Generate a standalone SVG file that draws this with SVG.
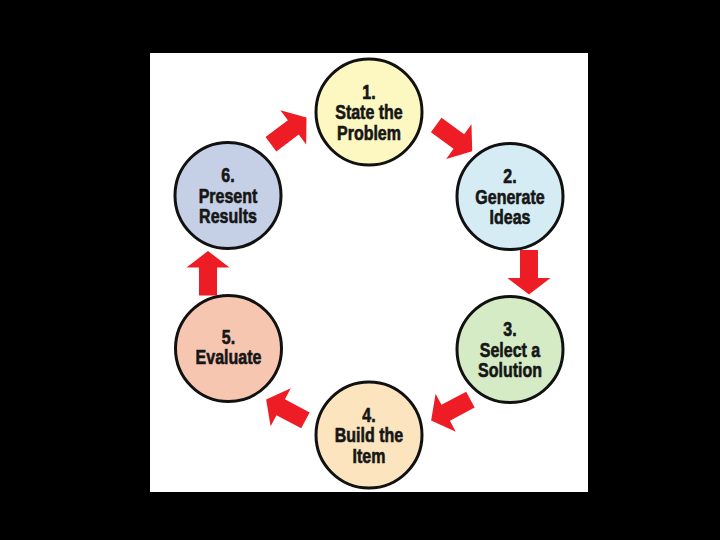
<svg xmlns="http://www.w3.org/2000/svg" width="720" height="540" viewBox="0 0 720 540">
<defs>
<style>
.node circle{stroke:#111;stroke-width:3}
.node text{font-family:"Liberation Sans",Arial,sans-serif;font-weight:bold;font-size:19.5px;fill:#161616;stroke:#161616;stroke-width:0.6;text-anchor:middle}
.arrow{fill:#ee1c24}
</style>
<path id="arr" d="M-22,-9 L6,-9 L6,-21.5 L22.5,0 L6,21.5 L6,9 L-22,9 Z"/>
</defs>
<rect x="0" y="0" width="720" height="540" fill="#000"/>
<rect x="150" y="53" width="438" height="439" fill="#fff"/>
<g id="connectors" class="arrow">
<use href="#arr" transform="translate(454,138) rotate(36)"/>
<use href="#arr" transform="translate(529,272) rotate(90)"/>
<use href="#arr" transform="translate(451,410) rotate(152)"/>
<use href="#arr" transform="translate(286,410) rotate(-152)"/>
<use href="#arr" transform="translate(208,273.5) rotate(-90)"/>
<use href="#arr" transform="translate(288.5,131) rotate(-37)"/>
</g>
<g id="node1" class="node">
<circle cx="369" cy="112" r="53" fill="#fdf8c2"/>
<g transform="translate(369,0) scale(0.82,1)">
<text x="0" y="99">1.</text>
<text x="0" y="119.5">State the</text>
<text x="0" y="140">Problem</text>
</g>
</g>
<g id="node2" class="node">
<circle cx="510" cy="196.5" r="53" fill="#d5ecf5"/>
<g transform="translate(510,0) scale(0.82,1)">
<text x="0" y="183.5">2.</text>
<text x="0" y="204">Generate</text>
<text x="0" y="224.5">Ideas</text>
</g>
</g>
<g id="node3" class="node">
<circle cx="510" cy="349.5" r="53" fill="#d5ebc5"/>
<g transform="translate(510,0) scale(0.82,1)">
<text x="0" y="336.5">3.</text>
<text x="0" y="357">Select a</text>
<text x="0" y="377.5">Solution</text>
</g>
</g>
<g id="node4" class="node">
<circle cx="369" cy="435" r="53" fill="#fce4bf"/>
<g transform="translate(369,0) scale(0.82,1)">
<text x="0" y="422">4.</text>
<text x="0" y="442.5">Build the</text>
<text x="0" y="463">Item</text>
</g>
</g>
<g id="node5" class="node">
<circle cx="228.5" cy="348.5" r="53" fill="#f7c6b1"/>
<g transform="translate(228.5,0) scale(0.82,1)">
<text x="0" y="344">5.</text>
<text x="0" y="364.5">Evaluate</text>
</g>
</g>
<g id="node6" class="node">
<circle cx="228" cy="195.5" r="53" fill="#c5cfe6"/>
<g transform="translate(228,0) scale(0.82,1)">
<text x="0" y="182.5">6.</text>
<text x="0" y="203">Present</text>
<text x="0" y="223.5">Results</text>
</g>
</g>
</svg>
